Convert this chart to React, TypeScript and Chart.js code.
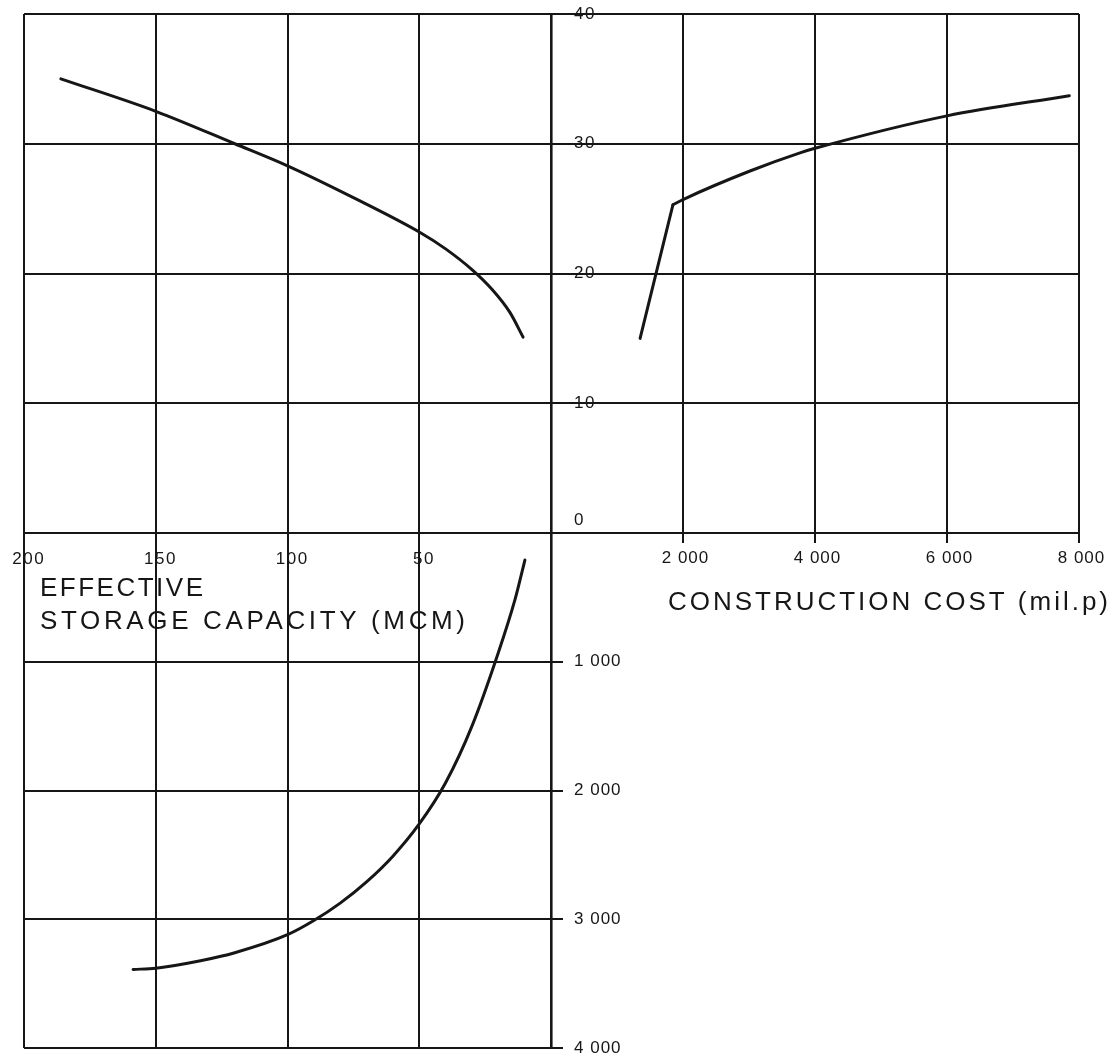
import React, { useEffect, useRef } from "react";
import { Chart, registerables } from "chart.js";

Chart.register(...registerables);

// ---- Data ----
// Top-left quadrant: level (0-40) vs effective storage capacity (MCM)
const storageTopX = [186, 150, 120, 100, 75, 50, 40, 30, 22.5, 15.6, 10.6];
const storageTopY = [35.0, 32.5, 30.0, 28.3, 25.85, 23.2, 21.9, 20.3, 18.8, 17.0, 15.1];

// Top-right quadrant: level vs construction cost (mil.p)
const costSteepX = [1350, 1848];
const costSteepY = [15.0, 25.3];
const costCurveX = [1848, 2000, 3015, 3773, 4000, 6000, 7853];
const costCurveY = [25.3, 25.7, 27.9, 29.3, 29.65, 32.15, 33.7];

// Bottom-left quadrant: construction cost vs effective storage capacity
const bottomStorage = [158.6, 150, 133, 120, 100, 90, 80, 70, 60, 50, 40, 30, 20, 13.7, 9.9];
const bottomCost = [3390, 3380, 3322, 3260, 3120, 3010, 2875, 2710, 2510, 2260, 1940, 1500, 930, 520, 210];

// Tick labels
const storageTicks = [200, 150, 100, 50];
const storageTickLabels = ["200", "150", "100", "50"];
const costTicks = [2000, 4000, 6000, 8000];
const costTickLabels = ["2 000", "4 000", "6 000", "8 000"];
const levelTicks = [40, 30, 20, 10, 0];
const levelTickLabels = ["40", "30", "20", "10", "0"];
const costDownTicks = [1000, 2000, 3000, 4000];
const costDownTickLabels = ["1 000", "2 000", "3 000", "4 000"];

// Titles
const storageTitleLines = ["EFFECTIVE", "STORAGE CAPACITY (MCM)"];
const costTitle = "CONSTRUCTION COST (mil.p)";

const INK = "#161616";
const FONT = '"Liberation Sans", Arial, sans-serif';

function setSpacing(ctx: any, px: number) {
  if ("letterSpacing" in ctx) ctx.letterSpacing = px + "px";
}

function drawSpaced(ctx: any, text: string, x: number, y: number, align: string, spacing: number) {
  setSpacing(ctx, 0);
  const raw = ctx.measureText(text).width;
  const total = raw + spacing * (text.length - 1);
  let sx = x;
  if (align === "center") sx = x - total / 2;
  else if (align === "right") sx = x - total;
  setSpacing(ctx, spacing);
  ctx.textAlign = "left";
  ctx.fillText(text, sx, y);
  setSpacing(ctx, 0);
}

function drawFitted(ctx: any, text: string, x: number, y: number, width: number) {
  setSpacing(ctx, 0);
  const raw = ctx.measureText(text).width;
  const spacing = text.length > 1 ? (width - raw) / (text.length - 1) : 0;
  setSpacing(ctx, spacing);
  ctx.textAlign = "left";
  ctx.fillText(text, x, y);
  setSpacing(ctx, 0);
}

const quadrantPlugin = {
  id: "quadrants",
  beforeDatasetsDraw(chart: any) {
    const { ctx } = chart;
    const { xL, xR, yT, yB } = chart.scales;
    const y0 = yT.getPixelForValue(0);
    const yTop = yT.getPixelForValue(40);
    const xLeft = xL.getPixelForValue(200);
    const x0 = xL.getPixelForValue(0);
    ctx.save();
    ctx.strokeStyle = INK;
    ctx.lineWidth = 2;
    ctx.beginPath();
    costTicks.forEach((v) => {
      const x = Math.round(xR.getPixelForValue(v));
      ctx.moveTo(x, yTop);
      ctx.lineTo(x, y0 + 10);
    });
    costDownTicks.forEach((v) => {
      const y = Math.round(yB.getPixelForValue(v));
      ctx.moveTo(xLeft, y);
      ctx.lineTo(x0 + 12, y);
    });
    ctx.stroke();
    ctx.restore();
  },
  afterDraw(chart: any) {
    const { ctx } = chart;
    const { xL, xR, yT, yB } = chart.scales;
    const y0 = yT.getPixelForValue(0);
    const x0 = xL.getPixelForValue(0);
    ctx.save();
    ctx.fillStyle = INK;
    ctx.textBaseline = "middle";
    ctx.font = "17px " + FONT;

    storageTicks.forEach((v, i) => {
      drawSpaced(ctx, storageTickLabels[i], xL.getPixelForValue(v) + 4, y0 + 26, "center", 1.5);
    });
    costTicks.forEach((v, i) => {
      drawSpaced(ctx, costTickLabels[i], xR.getPixelForValue(v) + 2, y0 + 25, "center", 1);
    });
    levelTicks.forEach((v, i) => {
      const y = yT.getPixelForValue(v) - (v === 0 ? 13 : 0);
      drawSpaced(ctx, levelTickLabels[i], x0 + 23, y, "left", 1.5);
    });
    costDownTicks.forEach((v, i) => {
      drawSpaced(ctx, costDownTickLabels[i], x0 + 23, yB.getPixelForValue(v), "left", 1);
    });

    ctx.font = "26px " + FONT;
    const xLeft = xL.getPixelForValue(200);
    drawFitted(ctx, storageTitleLines[0], xLeft + 16, y0 + 56, 163);
    drawFitted(ctx, storageTitleLines[1], xLeft + 16, y0 + 89, 425);
    drawFitted(ctx, costTitle, xR.getPixelForValue(0) + 117, y0 + 70, 440);
    ctx.restore();
  },
};

const lineStyle = {
  borderColor: INK,
  backgroundColor: INK,
  borderWidth: 3,
  fill: false,
  pointRadius: 0,
  pointHoverRadius: 0,
  borderCapStyle: "round",
  borderJoinStyle: "round",
};

export default function App() {
  const ref = useRef<HTMLCanvasElement>(null);

  useEffect(() => {
    const canvas = ref.current;
    if (!canvas) return;
    const gridWidth = (c: any) => (c.tick && c.tick.value === 0 ? 2.6 : 2);
    const chart = new Chart(canvas, {
      type: "line",
      data: {
        datasets: [
          {
            ...lineStyle,
            label: "Level vs storage",
            data: storageTopX.map((x, i) => ({ x, y: storageTopY[i] })),
            xAxisID: "xL",
            yAxisID: "yT",
            cubicInterpolationMode: "monotone",
          },
          {
            ...lineStyle,
            label: "Level vs cost (lower)",
            data: costSteepX.map((x, i) => ({ x, y: costSteepY[i] })),
            xAxisID: "xR",
            yAxisID: "yT",
            tension: 0,
          },
          {
            ...lineStyle,
            label: "Level vs cost",
            data: costCurveX.map((x, i) => ({ x, y: costCurveY[i] })),
            xAxisID: "xR",
            yAxisID: "yT",
            cubicInterpolationMode: "monotone",
          },
          {
            ...lineStyle,
            label: "Cost vs storage",
            data: bottomStorage.map((x, i) => ({ x, y: bottomCost[i] })),
            xAxisID: "xL",
            yAxisID: "yB",
            cubicInterpolationMode: "monotone",
          },
        ] as any,
      },
      options: {
        responsive: false,
        animation: false,
        devicePixelRatio: 1,
        events: [],
        layout: { padding: { left: 24, top: 14, right: 39, bottom: 10 } },
        plugins: {
          legend: { display: false },
          tooltip: { enabled: false },
          colors: { enabled: false },
        },
        scales: {
          xL: {
            type: "linear",
            position: "bottom",
            stack: "x",
            stackWeight: 527,
            weight: 1,
            min: 0,
            max: 200,
            reverse: true,
            ticks: { display: false, stepSize: 50 },
            grid: { drawTicks: false, color: INK, lineWidth: gridWidth },
            border: { display: false },
          },
          xR: {
            type: "linear",
            position: "bottom",
            stack: "x",
            stackWeight: 528,
            weight: 2,
            min: 0,
            max: 8000,
            display: false,
          },
          yT: {
            type: "linear",
            position: "left",
            stack: "y",
            stackWeight: 519,
            weight: 2,
            min: 0,
            max: 40,
            ticks: { display: false, stepSize: 10 },
            grid: { drawTicks: false, color: INK, lineWidth: 2 },
            border: { display: false },
          },
          yB: {
            type: "linear",
            position: "left",
            stack: "y",
            stackWeight: 515,
            weight: 1,
            min: 0,
            max: 4000,
            reverse: true,
            display: false,
          },
        } as any,
      },
      plugins: [quadrantPlugin],
    });
    return () => chart.destroy();
  }, []);

  return (
    <div style={{ position: "absolute", left: 0, top: 0, width: 1118, height: 1058, background: "#fff" }}>
      <canvas ref={ref} width={1118} height={1058} style={{ display: "block" }} />
    </div>
  );
}
